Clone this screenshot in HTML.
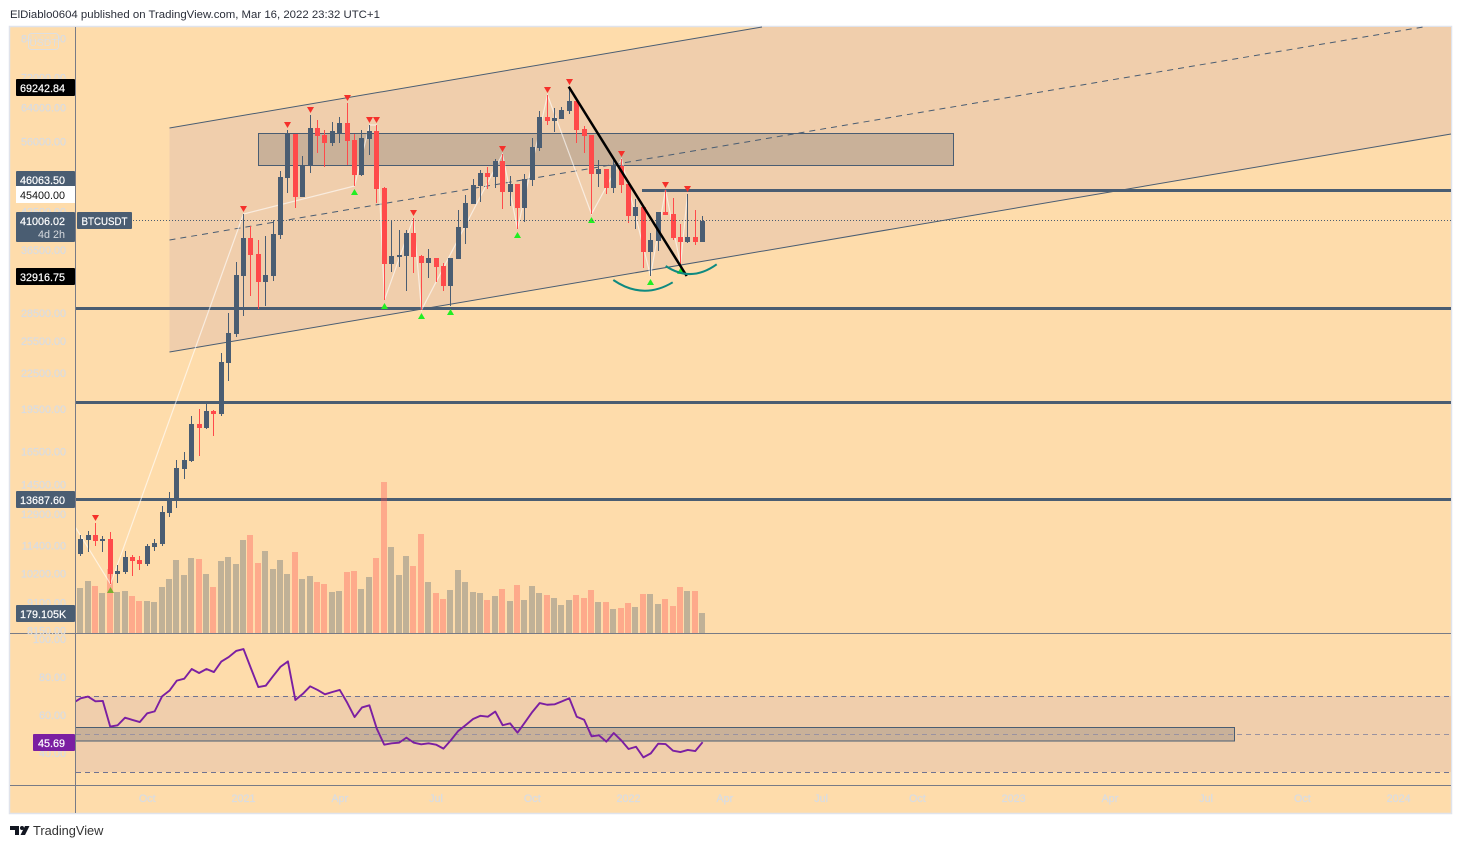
<!DOCTYPE html>
<html>
<head>
<meta charset="utf-8">
<title>BTCUSDT chart</title>
<style>
html,body{margin:0;padding:0;background:#fff;width:1461px;height:848px;overflow:hidden}
svg{display:block}
text{font-family:"Liberation Sans",sans-serif}
.tick{font-size:10.8px;fill:#d9dce1;stroke:#d9dce1;stroke-width:.25}
.lab{font-size:10.8px;fill:#fff;stroke:#fff;stroke-width:.2}
</style>
</head>
<body>
<svg id="chart" width="1461" height="848" viewBox="0 0 1461 848" xmlns="http://www.w3.org/2000/svg">
  <defs>
    <clipPath id="pane"><rect x="75.5" y="27" width="1375.5" height="759"/></clipPath>
  </defs>
  <text x="10" y="18" font-size="11.4" fill="#2a2e39">ElDiablo0604 published on TradingView.com, Mar 16, 2022 23:32 UTC+1</text>
  <rect x="9.5" y="26.5" width="1442" height="787" fill="#fedcab" stroke="#e0e3eb" stroke-width="1.5"/>

  <polygon points="169.5,128 762,27 1451,27 1451,134 169.5,352" fill="#f0ceac"/>
  <rect x="258.5" y="133.5" width="695" height="32" fill="#c9b199" stroke="#4a5d72" stroke-width="1"/>
  <line x1="169.5" y1="128" x2="762" y2="27" stroke="#4a5d72" stroke-width="1"/>
  <line x1="169.5" y1="240" x2="1423" y2="27" stroke="#4a5d72" stroke-width="1" stroke-dasharray="6 5"/>
  <line x1="169.5" y1="352" x2="1451" y2="134" stroke="#4a5d72" stroke-width="1"/>

  <rect x="76" y="696" width="1375" height="76" fill="#f0ceac"/>
  <rect x="75.5" y="727.5" width="1159" height="13.5" fill="#c9b199" stroke="#4a5d72" stroke-width="1"/>
  <line x1="76" y1="696.5" x2="1451" y2="696.5" stroke="#6f7391" stroke-width="1" stroke-dasharray="5 4"/>
  <line x1="76" y1="734.5" x2="1451" y2="734.5" stroke="#9a92a0" stroke-width="1" stroke-dasharray="5 4"/>
  <line x1="76" y1="772.5" x2="1451" y2="772.5" stroke="#6f7391" stroke-width="1" stroke-dasharray="5 4"/>

  <rect x="76" y="307" width="1375" height="3" fill="#4a5d72"/>
  <rect x="76" y="401" width="1375" height="3" fill="#4a5d72"/>
  <rect x="76" y="498" width="1375" height="3" fill="#4a5d72"/>
  <rect x="642" y="189" width="809" height="3" fill="#4a5d72"/>

  <g id="volume-layer"></g>
  <g id="zigzag-layer" clip-path="url(#pane)"></g>
  <g id="candle-layer" shape-rendering="crispEdges"></g>
  <g id="pivot-layer"></g>

  <line x1="133" y1="220.5" x2="1451" y2="220.5" stroke="#4a5d72" stroke-width="1" stroke-dasharray="1 2"/>
  <line x1="568.7" y1="86.7" x2="686.7" y2="276" stroke="#000" stroke-width="2.5"/>
  <path d="M613.3 280 Q643 300.3 672.7 282.3" fill="none" stroke="#0f8a80" stroke-width="2"/>
  <path d="M665.7 266 Q691 282.9 716.7 264.3" fill="none" stroke="#0f8a80" stroke-width="2"/>

  <g id="rsi-layer" clip-path="url(#pane)"></g>

  <rect x="75" y="27" width="1" height="786" fill="#787b86"/>
  <rect x="10" y="633" width="1441" height="1" fill="#787b86"/>
  <rect x="10" y="785" width="1441" height="1" fill="#787b86"/>

  <g id="price-ticks"></g>
  <g id="rsi-ticks"></g>
  <g id="time-ticks"></g>

  <rect x="28.5" y="33.5" width="30" height="16" rx="3" fill="#fedcab" fill-opacity=".55" stroke="#dcdfe3" stroke-width="1"/>
  <text x="43.5" y="46" font-size="10.5" fill="#dcdfe3" text-anchor="middle">USDT</text>

  <rect x="16" y="79" width="59" height="17" rx="1" fill="#000"/>
  <text class="lab" x="20" y="92">69242.84</text>
  <rect x="16" y="171" width="59" height="16" rx="1" fill="#4a5d72"/>
  <text class="lab" x="20" y="184">46063.50</text>
  <rect x="16" y="186" width="59" height="17" fill="#fff"/>
  <text class="lab" x="20" y="199" style="fill:#111;stroke:none">45400.00</text>
  <rect x="16" y="212" width="59" height="30" rx="1" fill="#4a5d72"/>
  <text class="lab" x="20" y="225">41006.02</text>
  <text class="lab" x="65" y="238" text-anchor="end" style="fill:#d5d9de;stroke:none">4d 2h</text>
  <rect x="16" y="268" width="59" height="17" rx="1" fill="#000"/>
  <text class="lab" x="20" y="281">32916.75</text>
  <rect x="16" y="491" width="59" height="17" rx="1" fill="#4a5d72"/>
  <text class="lab" x="20" y="504">13687.60</text>
  <rect x="16" y="605" width="59" height="17" rx="1" fill="#4a5d72"/>
  <text class="lab" x="20" y="618">179.105K</text>
  <rect x="33" y="734" width="42" height="17" rx="1" fill="#7b1fa2"/>
  <text class="lab" x="38" y="747">45.69</text>
  <rect x="77" y="212" width="55" height="17" rx="1" fill="#4a5d72"/>
  <text class="lab" x="81.5" y="225" textLength="46" lengthAdjust="spacingAndGlyphs">BTCUSDT</text>

  <g>
    <path d="M10 826h9v9h-4v-5h-5z" fill="#131722"/>
    <circle cx="22" cy="828" r="2" fill="#131722"/>
    <polygon points="25,826 29.5,826 25,835 20.5,835" fill="#131722"/>
    <text x="33" y="835" font-size="12.8" fill="#333">TradingView</text>
  </g>
</svg>
<script>
const opens = [11015,11640,11870,11595,11690,10180,10265,10890,10760,10590,11325,11460,12950,13630,15400,15900,18400,18110,19360,19130,23400,26230,32950,38280,35940,32180,32950,38730,48490,57670,44990,51030,59040,57450,55650,57890,60220,56310,49060,56550,58350,46610,34550,35520,35660,39040,35660,34690,35380,34280,31680,35240,39810,43760,46980,49450,48680,51840,45880,47350,43080,48100,54570,61670,60690,61180,63130,65665,58810,57450,49250,50240,46610,50830,47350,41740,43250,36220,37830,42400,42070,38430,37680,38430,37680];
const closes = [11690,11870,11595,11690,10180,10300,10890,10715,10590,11370,11505,13000,13630,15460,15960,18400,18110,19360,19130,23490,26330,33080,38280,35800,32180,33080,38880,48680,57670,44990,51030,59040,57220,55650,58350,60220,56090,49060,56770,58350,46430,34550,35660,35800,39040,35520,34690,35380,34150,31680,35380,39970,43930,47160,49450,48680,51840,45880,47350,43080,48290,54780,61670,60690,61430,63380,65665,58580,57220,49250,50240,46610,51030,47160,41740,43250,36220,37975,42400,41900,38280,37680,38430,37680,41006];
const highs = [11870,12060,12450,11825,12015,10550,11145,10975,10930,11460,11690,13315,14070,15960,16470,18990,19520,19910,19440,24340,28460,34820,42070,40130,37975,38580,41086,49840,58580,57670,52870,62150,60930,58580,60450,61670,65150,57670,58580,59740,59740,46790,41086,39500,39500,41410,35800,36660,35380,34690,35380,42735,45340,48290,50035,50630,52250,53290,48870,47350,49250,56770,63130,67230,63880,64130,69390,66450,59510,57450,52045,50240,52045,52250,47350,44630,43590,39040,42400,46240,44810,40440,45520,42735,41740];
const lows = [10930,11100,11370,11100,9790,9830,10180,10105,10345,10510,11145,11370,12750,13210,14810,15830,16210,18040,17540,18990,21790,25930,28120,30460,28930,29280,32310,38130,45700,43080,44990,49450,53500,50630,55000,55650,51030,46980,48870,53080,43930,29980,33480,34150,31060,33350,28820,32700,32180,31060,29280,35240,37380,43760,44110,46430,46610,42910,43420,39660,40760,46980,53920,59740,58120,61180,62390,55650,53500,42070,46790,45520,45700,45700,40600,39660,34020,32950,36370,41900,37975,34430,37530,37240,37680];
const volumesK = [400,461,417,355,567,364,373,329,285,285,276,408,479,646,514,664,655,523,408,638,673,611,823,867,620,726,567,646,523,717,479,505,452,435,364,373,541,549,391,497,664,1334,761,514,682,594,876,452,355,303,382,558,452,364,355,294,329,391,285,426,294,417,355,338,311,250,294,338,311,382,276,276,214,223,267,232,347,347,258,303,241,408,373,373,179.105];
const rsiBefore = 66.3;
const rsiValues = [68.8,69.7,67.2,67.4,53.9,54.6,58.6,57.4,56.3,60.9,61.9,69.8,72.8,78.1,79.1,84.2,82.1,84.2,82.6,88.1,90.5,93.7,94.7,84.6,74.7,75.4,80.5,85.4,88.2,67.9,71.1,75.1,73.2,70.9,72.1,73.2,66.5,58.9,64.0,65.1,52.8,44.4,45.1,45.4,48.1,45.4,44.6,45.1,44.4,42.3,46.7,51.6,54.7,57.9,59.6,59.1,61.8,54.6,55.6,50.7,56.1,61.6,66.3,65.4,65.6,67.2,68.8,59.1,57.5,48.8,49.3,46.0,50.5,46.7,42.1,43.3,37.7,39.8,44.9,44.7,41.2,40.5,41.6,41.0,45.69];
const highPivots = [2,22,28,31,36,39,40,45,57,63,66,73,79,82];
const lowPivots = [4,37,41,46,50,59,69,77,81];
const zigzagStartPrice = 12420;
const zigzagBars = [4,22,37,39,40,41,45,46,57,59,63,69,73,77,79,81,82];
const priceTickValues = [84000,72000,64000,56000,42500,36500,28500,25500,22500,19500,16500,14500,12900,11400,10200,9100,8150];
const rsiTickValues = [100,80,60,40];
const timeTickBars = [9,22,35,48,61,74,87,100,113,126,139,152,165,178];
const timeTickLabels = ['Oct','2021','Apr','Jul','Oct','2022','Apr','Jul','Oct','2023','Apr','Jul','Oct','2024'];

const NS = 'http://www.w3.org/2000/svg';
const UP = '#4a5d72';
const DOWN = '#ff4a4a';
const barX = i => 80.6 + 7.405 * i;
const barCenter = i => Math.floor(barX(i)) + 0.5;
const priceY = p => 220.5 - 253.8 * Math.log(p / 41006);
const volumeY = v => 633.3 - v / 8.82;
const rsiY = r => 753 - (r - 40) * 1.9;

function make(tag, parent, attrs) {
  const el = document.createElementNS(NS, tag);
  for (const k in attrs) el.setAttribute(k, attrs[k]);
  parent.appendChild(el);
  return el;
}

const volumeLayer = document.getElementById('volume-layer');
volumesK.forEach((v, i) => {
  const up = closes[i] >= opens[i];
  const top = volumeY(v);
  const el = make('rect', volumeLayer, {x: barCenter(i) - 3.5, y: top, width: 6, height: 633 - top, fill: up ? 'rgba(74,93,114,.34)' : 'rgba(255,82,82,.36)', 'shape-rendering': 'crispEdges'});
  
  
});

const zigzagLayer = document.getElementById('zigzag-layer');
let zigzagPoints = barX(-1) + ',' + priceY(zigzagStartPrice);
zigzagBars.forEach(b => {
  const price = highPivots.includes(b) ? highs[b] : lows[b];
  zigzagPoints += ' ' + barCenter(b) + ',' + priceY(price);
});
const zigzagLine = make('polyline', zigzagLayer, {points: zigzagPoints, fill: 'none', stroke: 'rgba(255,255,255,.62)', 'stroke-width': 1.2});



const candleLayer = document.getElementById('candle-layer');
opens.forEach((o, i) => {
  const c = closes[i];
  const color = c >= o ? UP : DOWN;
  const cx = barCenter(i);
  const wickTop = Math.round(priceY(highs[i]));
  const wickBottom = Math.round(priceY(lows[i]));
  const bodyTop = Math.round(priceY(Math.max(o, c)));
  const bodyBottom = Math.round(priceY(Math.min(o, c)));
  const wick = make('rect', candleLayer, {x: cx - 0.5, y: wickTop, width: 1, height: Math.max(1, wickBottom - wickTop), fill: color});
  
  
  const body = make('rect', candleLayer, {x: cx - 2.5, y: bodyTop, width: 5, height: Math.max(1, bodyBottom - bodyTop), fill: color});
  
  
});

const pivotLayer = document.getElementById('pivot-layer');
highPivots.forEach(b => {
  const cx = barCenter(b);
  const y = priceY(highs[b]) - 5;
  const tri = make('polygon', pivotLayer, {points: (cx - 3.5) + ',' + (y - 3) + ' ' + (cx + 3.5) + ',' + (y - 3) + ' ' + cx + ',' + (y + 3), fill: '#f5302a'});
  
  
});
lowPivots.forEach(b => {
  const cx = barCenter(b);
  const y = priceY(lows[b]) + 6;
  const tri = make('polygon', pivotLayer, {points: (cx - 3.5) + ',' + (y + 3) + ' ' + (cx + 3.5) + ',' + (y + 3) + ' ' + cx + ',' + (y - 3), fill: b === 4 ? '#7aae30' : '#22ee22'});
  
  
});

const rsiLayer = document.getElementById('rsi-layer');
let rsiPoints = barX(-1) + ',' + rsiY(rsiBefore);
rsiValues.forEach((r, i) => {
  rsiPoints += ' ' + barX(i) + ',' + rsiY(r);
});
const rsiLine = make('polyline', rsiLayer, {points: rsiPoints, fill: 'none', stroke: '#7b1fa2', 'stroke-width': 1.9, 'stroke-linejoin': 'round'});



const priceTicks = document.getElementById('price-ticks');
priceTickValues.forEach(v => {
  const t = make('text', priceTicks, {class: 'tick', x: 66, y: priceY(v) + 4, 'text-anchor': 'end'});
  t.textContent = v.toFixed(2);
  
  
});
const rsiTicks = document.getElementById('rsi-ticks');
rsiTickValues.forEach(v => {
  const t = make('text', rsiTicks, {class: 'tick', x: 66, y: rsiY(v) + 4, 'text-anchor': 'end'});
  t.textContent = v.toFixed(2);
  
  
});
const timeTicks = document.getElementById('time-ticks');
timeTickBars.forEach((b, i) => {
  const t = make('text', timeTicks, {class: 'tick', x: barX(b), y: 802, 'text-anchor': 'middle'});
  t.textContent = timeTickLabels[i];
  
  
});
</script>
</body>
</html>
